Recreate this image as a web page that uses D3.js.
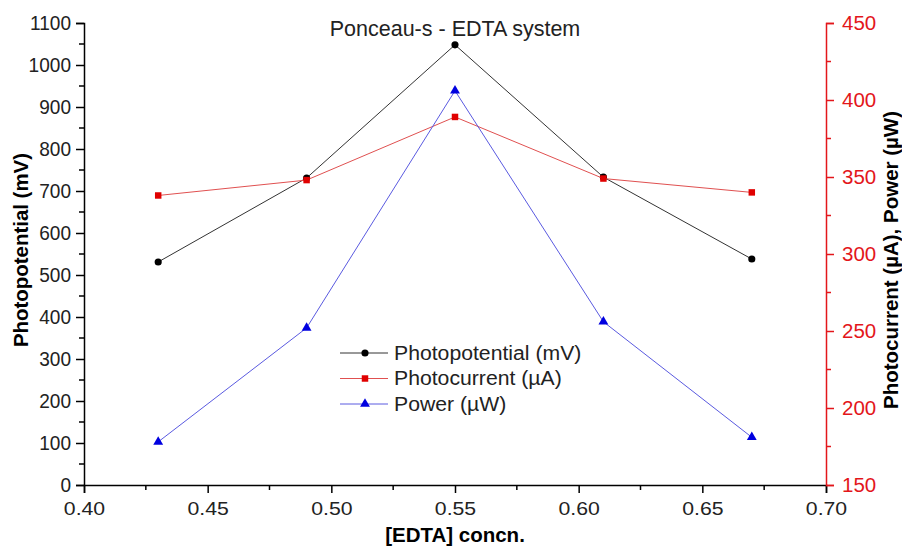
<!DOCTYPE html>
<html>
<head>
<meta charset="utf-8">
<script src="https://cdn.jsdelivr.net/npm/d3@7"></script>
<style>
  body { margin: 0; background: #fff; }
  svg { font-family: "Liberation Sans", Arial, sans-serif; }
</style>
</head>
<body>
<svg id="chart" width="902" height="546"></svg>
<script>
// data
const concn = [0.43, 0.49, 0.55, 0.61, 0.67];
const photopotential = [531, 731, 1048, 733, 538];   // mV, left axis
const photocurrent = [338, 348, 389, 349, 340];      // µA, right axis
const power = [178, 252, 406, 256, 181];             // µW, right axis

const xTicks = [0.40, 0.45, 0.50, 0.55, 0.60, 0.65, 0.70];
const leftTicks = d3.range(0, 1101, 100);
const rightTicks = d3.range(150, 451, 50);

const margin = { left: 84, right: 76, top: 23, bottom: 61 };
const width = 902, height = 546;
const red = '#e3161b';

const svg = d3.select('#chart');

const x = d3.scaleLinear().domain([0.40, 0.70]).range([margin.left, width - margin.right]);
const yL = d3.scaleLinear().domain([0, 1100]).range([height - margin.bottom, margin.top]);
const yR = d3.scaleLinear().domain([150, 450]).range([height - margin.bottom, margin.top]);

// the reference text looks a bit wider than the font, so stretch it
function stretch(sel, k) {
  sel.each(function () {
    const len = this.getComputedTextLength();
    d3.select(this).attr('textLength', len * k).attr('lengthAdjust', 'spacingAndGlyphs');
  });
}

// axes
const xAxis = svg.append('g')
  .attr('transform', `translate(0,${height - margin.bottom})`)
  .call(d3.axisBottom(x).tickValues(xTicks).tickFormat(d3.format('.2f')).tickSizeOuter(0).tickSize(8).tickPadding(9));
xAxis.append('g').selectAll('line')
  .data(d3.range(0.425, 0.70, 0.05))
  .enter().append('line')
  .attr('x1', d => x(d)).attr('x2', d => x(d))
  .attr('y1', 0).attr('y2', 5)
  .attr('stroke', '#000');

const leftAxis = svg.append('g')
  .attr('transform', `translate(${margin.left},0)`)
  .call(d3.axisLeft(yL).tickValues(leftTicks).tickFormat(d3.format('d')).tickSizeOuter(0).tickSize(8).tickPadding(5));
leftAxis.append('g').selectAll('line')
  .data(d3.range(50, 1100, 100))
  .enter().append('line')
  .attr('x1', 0).attr('x2', -5)
  .attr('y1', d => yL(d)).attr('y2', d => yL(d))
  .attr('stroke', '#000');

const rightAxis = svg.append('g')
  .attr('transform', `translate(${width - margin.right},0)`)
  .call(d3.axisRight(yR).tickValues(rightTicks).tickSizeOuter(0).tickSize(8).tickPadding(8));
rightAxis.append('g').selectAll('line')
  .data(d3.range(175, 450, 50))
  .enter().append('line')
  .attr('x1', 0).attr('x2', 5)
  .attr('y1', d => yR(d)).attr('y2', d => yR(d))
  .attr('stroke', red);

[xAxis, leftAxis, rightAxis].forEach(a => {
  a.selectAll('text').attr('font-family', '"Liberation Sans", Arial, sans-serif');
  a.selectAll('.domain, line').attr('stroke-width', 1.5);
});
xAxis.selectAll('text').attr('fill', '#222').attr('font-size', 18);
stretch(xAxis.selectAll('text'), 1.18);
leftAxis.selectAll('text').attr('fill', '#222').attr('font-size', 20.5);
stretch(leftAxis.selectAll('text'), 0.93);
rightAxis.selectAll('.domain, line').attr('stroke', red);
rightAxis.selectAll('text').attr('fill', red).attr('font-size', 20.5);

// series
const series = [
  { name: 'Photopotential (mV)', values: photopotential, y: yL, line: '#333', fill: '#000', marker: d3.symbolCircle, size: 40 },
  { name: 'Photocurrent (\u00b5A)', values: photocurrent, y: yR, line: '#e05050', fill: '#e00000', marker: d3.symbolSquare, size: 42 },
  { name: 'Power (\u00b5W)', values: power, y: yR, line: '#5a5ae0', fill: '#0000e0', marker: d3.symbolTriangle, size: 42 }
];

series.forEach(s => {
  const pts = concn.map((c, i) => [c, s.values[i]]);
  svg.append('path')
    .datum(pts)
    .attr('fill', 'none')
    .attr('stroke', s.line)
    .attr('stroke-width', 1)
    .attr('d', d3.line().x(d => x(d[0])).y(d => s.y(d[1])));
  svg.append('g').selectAll('path')
    .data(pts)
    .enter().append('path')
    .attr('transform', d => `translate(${x(d[0])},${s.y(d[1])})`)
    .attr('d', d3.symbol().type(s.marker).size(s.size))
    .attr('fill', s.fill);
});

// legend
const legend = svg.append('g').attr('transform', 'translate(340,353)');
series.forEach((s, i) => {
  const g = legend.append('g').attr('transform', `translate(0,${i * 25.5})`);
  g.append('line').attr('x1', 0).attr('x2', 48).attr('y1', 0).attr('y2', 0)
    .attr('stroke', s.line).attr('stroke-width', 1);
  g.append('path').attr('transform', 'translate(25,0)')
    .attr('d', d3.symbol().type(s.marker).size(s.size)).attr('fill', s.fill);
  g.append('text').attr('x', 54).attr('y', 6.5)
    .attr('font-size', 20).attr('fill', '#222').text(s.name);
});
stretch(legend.selectAll('text'), 1.06);

// titles
svg.append('text')
  .attr('x', x(0.55)).attr('y', 36)
  .attr('text-anchor', 'middle').attr('font-size', 21.5).attr('fill', '#222')
  .text('Ponceau-s - EDTA system');

svg.append('text')
  .attr('x', x(0.55)).attr('y', 542)
  .attr('text-anchor', 'middle').attr('font-size', 20.5).attr('font-weight', 'bold')
  .text('[EDTA] concn.');

svg.append('text')
  .attr('transform', 'translate(28,250) rotate(-90)')
  .attr('text-anchor', 'middle').attr('font-size', 20).attr('font-weight', 'bold')
  .attr('textLength', 194).attr('lengthAdjust', 'spacingAndGlyphs')
  .text('Photopotential (mV)');

svg.append('text')
  .attr('transform', 'translate(898,260) rotate(-90)')
  .attr('text-anchor', 'middle').attr('font-size', 20.5).attr('font-weight', 'bold')
  .text('Photocurrent (\u00b5A), Power (\u00b5W)');
</script>
</body>
</html>
